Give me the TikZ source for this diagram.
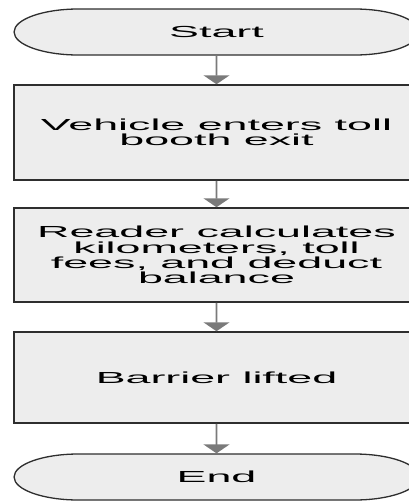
\documentclass[tikz,border=0pt]{standalone}
\usepackage{fontspec}
\setmainfont{Liberation Sans}
\usetikzlibrary{arrows.meta,shapes.misc}
\definecolor{boxfill}{HTML}{EDEDED}
\definecolor{boxline}{HTML}{2E2E2E}
\definecolor{arrline}{HTML}{7A7A7A}
\begin{document}
\begin{tikzpicture}[x=1pt,y=-1pt,
  txt/.style={font=\fontsize{16}{15.3}\selectfont, align=center, xscale=2.8, inner sep=0pt},
  procbox/.style={txt, draw=boxline, fill=boxfill, line width=1.5pt, rectangle, minimum width=144.6pt},
  termbox/.style={txt, draw=boxline, fill=boxfill, line width=1.3pt, rounded rectangle, minimum width=144.6pt, minimum height=46pt},
  flowarrow/.style={draw=arrline, line width=1.8pt, -{Triangle[width=26pt,length=9pt]}}
]
\useasboundingbox (0,0) rectangle (409,501);
\clip (0,0) rectangle (409,501);
\node[termbox] (start) at (216.5,32) {Start};
\node[procbox, minimum height=95pt] (b1) at (216.5,132.5) {Vehicle enters toll\\booth exit};
\node[procbox, minimum height=94pt] (b2) at (216.5,255) {Reader calculates\\kilometers, toll\\fees, and deduct\\balance};
\node[procbox, minimum height=91pt] (b3) at (216.5,377.5) {Barrier lifted};
\node[termbox] (end) at (216.5,477) {End};
\draw[flowarrow] (start) -- (b1);
\draw[flowarrow] (b1) -- (b2);
\draw[flowarrow] (b2) -- (b3);
\draw[flowarrow] (b3) -- (end);
\end{tikzpicture}
\end{document}
